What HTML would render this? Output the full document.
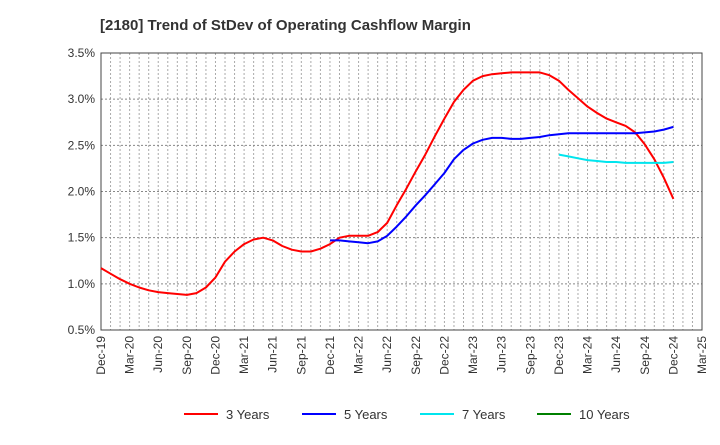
<!DOCTYPE html>
<html><head><meta charset="utf-8"><style>
body{margin:0;background:#fff;font-family:"Liberation Sans",sans-serif}
</style></head><body>
<svg id="c" width="720" height="440" xmlns="http://www.w3.org/2000/svg" font-family="Liberation Sans, sans-serif">
<text x="100" y="30" font-size="15" font-weight="bold" fill="#333">[2180]  Trend of StDev of Operating Cashflow Margin</text>
<g id="grid"></g><g id="axes"></g><g id="series"></g><g id="legend"></g>
</svg>
<script>
const yTicks=[0.5,1.0,1.5,2.0,2.5,3.0,3.5];
const xLabels=["Dec-19","Mar-20","Jun-20","Sep-20","Dec-20","Mar-21","Jun-21","Sep-21","Dec-21","Mar-22","Jun-22","Sep-22","Dec-22","Mar-23","Jun-23","Sep-23","Dec-23","Mar-24","Jun-24","Sep-24","Dec-24","Mar-25"];
const red=[1.17,1.11,1.05,1.0,0.96,0.93,0.91,0.9,0.89,0.88,0.9,0.96,1.07,1.24,1.35,1.43,1.48,1.5,1.47,1.41,1.37,1.35,1.35,1.38,1.43,1.5,1.52,1.52,1.52,1.56,1.66,1.85,2.03,2.22,2.4,2.6,2.79,2.97,3.1,3.2,3.25,3.27,3.28,3.29,3.29,3.29,3.29,3.26,3.2,3.1,3.01,2.92,2.85,2.79,2.75,2.71,2.64,2.51,2.35,2.15,1.92];
const blue=[null,null,null,null,null,null,null,null,null,null,null,null,null,null,null,null,null,null,null,null,null,null,null,null,1.47,1.47,1.46,1.45,1.44,1.46,1.52,1.62,1.73,1.85,1.96,2.08,2.2,2.35,2.45,2.52,2.56,2.58,2.58,2.57,2.57,2.58,2.59,2.61,2.62,2.63,2.63,2.63,2.63,2.63,2.63,2.63,2.63,2.64,2.65,2.67,2.7];
const cyan=[null,null,null,null,null,null,null,null,null,null,null,null,null,null,null,null,null,null,null,null,null,null,null,null,null,null,null,null,null,null,null,null,null,null,null,null,null,null,null,null,null,null,null,null,null,null,null,null,2.4,2.38,2.36,2.34,2.33,2.32,2.32,2.31,2.31,2.31,2.31,2.31,2.32];
const green=[];
const L=101,R=702,T=53,B=330,NS="http://www.w3.org/2000/svg";
const xs=i=>L+i*(R-L)/63, ys=v=>B-(v-0.5)/3*(B-T);
function mk(p,t,a){const e=document.createElementNS(NS,t);for(const k in a)e.setAttribute(k,a[k]);document.getElementById(p).appendChild(e);return e;}
for(let m=1;m<63;m++){const e=mk("grid","line",{x1:xs(m),x2:xs(m),y1:T,y2:B,stroke:"#aaa","stroke-dasharray":"2,2"});

}
yTicks.forEach(v=>{const e=mk("grid","line",{x1:L,x2:R,y1:ys(v),y2:ys(v),stroke:"#888","stroke-dasharray":"2,2"});


const t=mk("axes","text",{x:L-6,y:ys(v)+4,"text-anchor":"end","font-size":"12",fill:"#333"});t.textContent=v.toFixed(1)+"%";

});
const fr=mk("axes","rect",{x:L,y:T,width:R-L,height:B-T,fill:"none",stroke:"#444"});


xLabels.forEach((s,i)=>{const x=xs(i*3);const t=mk("axes","text",{transform:`translate(${x+4},${B+6}) rotate(-90)`,"text-anchor":"end","font-size":"12",fill:"#333"});t.textContent=s;

});
function line(arr,col,name){let d="";arr.forEach((v,i)=>{if(v==null)return;d+=(d?"L":"M")+xs(i).toFixed(1)+","+ys(v).toFixed(1);});
if(!d)return;const p=mk("series","path",{d:d,fill:"none",stroke:col,"stroke-width":2,"stroke-linejoin":"round"});

}
line(red,"#ff0000","line-3-years");line(blue,"#0000ff","line-5-years");line(cyan,"#00e5ee","line-7-years");line(green,"#008000","line-10-years");
[["3 Years","#ff0000",184],["5 Years","#0000ff",302],["7 Years","#00e5ee",420],["10 Years","#008000",537]].forEach(([s,c,x])=>{
const g=mk("legend","g",{});


const l=document.createElementNS(NS,"line");l.setAttribute("x1",x);l.setAttribute("x2",x+34);l.setAttribute("y1",414);l.setAttribute("y2",414);l.setAttribute("stroke",c);l.setAttribute("stroke-width",2);g.appendChild(l);
const t=document.createElementNS(NS,"text");t.setAttribute("x",x+42);t.setAttribute("y",419);t.setAttribute("font-size","13");t.setAttribute("fill","#333");t.textContent=s;g.appendChild(t);});
</script>
</body></html>
